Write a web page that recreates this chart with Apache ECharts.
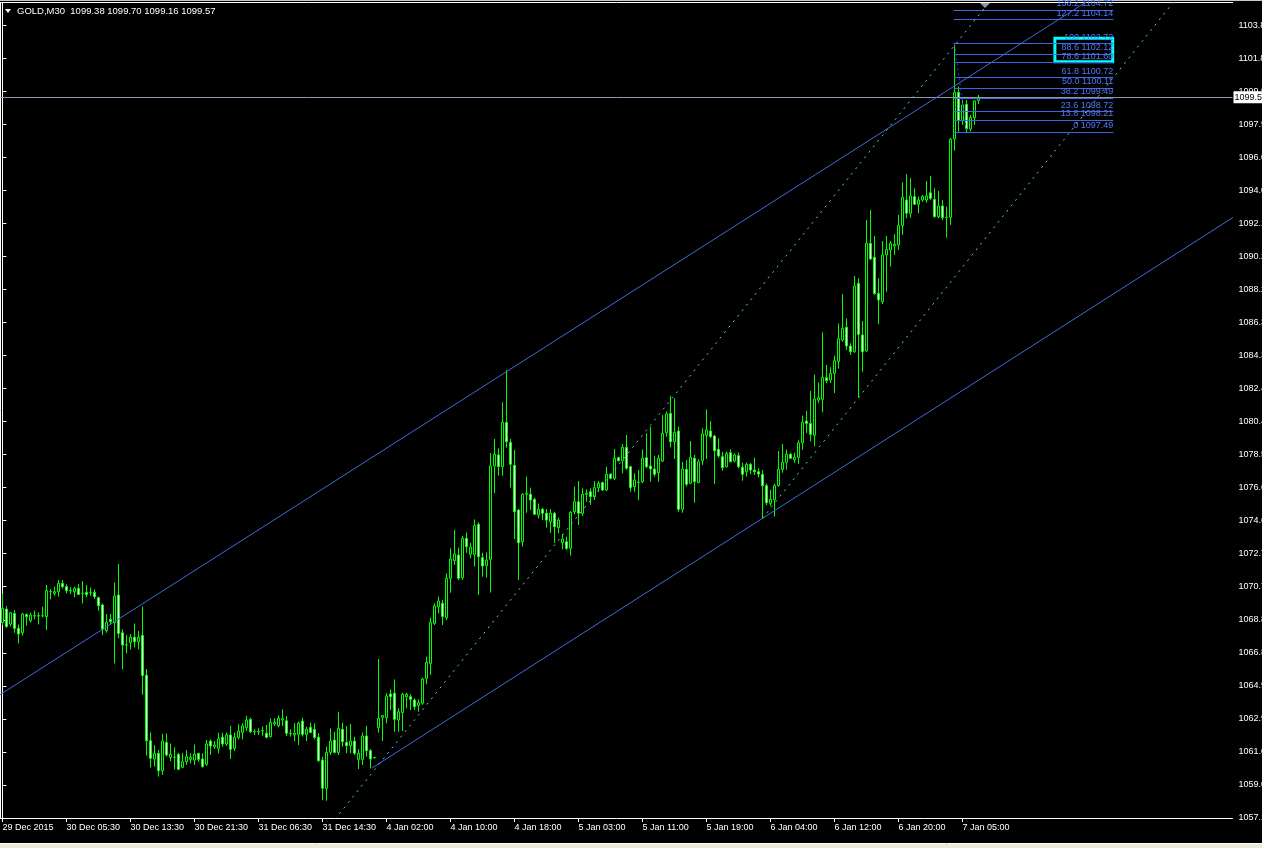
<!DOCTYPE html>
<html><head><meta charset="utf-8">
<script src="https://cdn.jsdelivr.net/npm/echarts@6/dist/echarts.min.js"></script>
<style>html,body{margin:0;padding:0;background:#000;overflow:hidden}#c{width:1262px;height:848px}</style>
</head><body><div id="c"></div>
<script>
const opens = [
1068.58,1069.37,1068.48,1069.11,1068.23,1067.97,1069.05,1068.68,1068.96,1068.97,
1068.96,1068.92,1070.39,1070.29,1070.39,1070.88,1070.69,1070.45,1070.39,1070.59,
1070.29,1070.35,1070.33,1070.35,1070.04,1069.61,1068.09,1068.76,1068.56,1070.20,
1067.97,1067.25,1067.40,1067.70,1067.44,1067.81,1065.47,1061.60,1060.52,1060.85,
1059.83,1061.50,1060.62,1060.62,1060.79,1060.03,1060.36,1060.50,1060.46,1060.85,
1060.52,1060.21,1061.58,1061.25,1061.15,1061.80,1061.41,1061.94,1061.15,1061.80,
1062.09,1062.37,1062.86,1062.13,1062.14,1062.19,1062.04,1061.84,1062.59,1062.49,
1062.82,1062.78,1062.04,1061.94,1061.98,1062.76,1061.98,1062.39,1062.27,1061.80,
1060.46,1058.79,1060.91,1061.64,1060.91,1062.27,1061.50,1061.31,1061.58,1060.50,
1060.50,1061.88,1061.01,1060.60,1062.37,1062.98,1062.96,1064.36,1064.40,1062.82,
1063.26,1064.20,1064.20,1064.00,1063.69,1063.81,1065.28,1066.16,1068.52,1069.51,
1069.71,1068.86,1071.18,1072.22,1072.56,1071.22,1073.54,1072.60,1072.60,1074.37,
1072.40,1071.93,1072.30,1077.81,1078.46,1077.77,1080.38,1079.20,1077.85,1075.21,
1073.34,1076.14,1076.14,1075.84,1074.92,1075.25,1075.02,1074.52,1075.02,1074.17,
1073.30,1073.34,1072.95,1075.11,1075.70,1075.02,1076.14,1076.29,1076.00,1076.53,
1076.83,1076.39,1077.32,1077.08,1078.30,1078.12,1078.91,1077.77,1076.59,1076.84,
1076.88,1078.30,1077.81,1077.63,1077.41,1078.10,1079.77,1080.91,1079.24,1079.87,
1075.25,1077.61,1076.79,1078.26,1076.83,1078.12,1079.60,1079.87,1079.58,1078.79,
1078.36,1077.77,1078.59,1078.10,1078.42,1077.73,1077.47,1077.91,1077.57,1077.47,
1077.31,1076.65,1075.61,1075.80,1076.65,1077.61,1078.02,1078.50,1078.18,1078.32,
1079.18,1080.46,1080.32,1079.62,1081.70,1081.74,1083.02,1082.88,1083.27,1083.98,
1085.24,1085.99,1084.89,1084.55,1088.58,1085.54,1084.59,1090.94,1090.12,1087.99,
1087.50,1090.26,1090.55,1090.79,1090.85,1091.99,1093.50,1092.72,1093.70,1093.25,
1093.50,1093.50,1093.93,1093.54,1092.52,1093.15,1092.48,1092.48,1097.10,1099.85,
1098.18,1099.15,1097.69,1098.36,1099.38];
const highs = [
1070.29,1069.55,1069.21,1069.31,1068.46,1069.15,1069.11,1069.15,1069.27,1069.17,
1069.51,1070.79,1070.55,1070.69,1071.08,1071.08,1070.83,1070.65,1070.69,1070.85,
1071.02,1070.79,1070.63,1070.53,1070.10,1069.70,1069.07,1069.07,1070.94,1072.02,
1068.17,1067.83,1067.89,1068.52,1068.07,1069.51,1065.83,1062.09,1061.34,1061.05,
1061.99,1062.03,1061.44,1061.21,1060.89,1060.89,1061.05,1060.85,1061.38,1060.89,
1060.86,1061.64,1061.68,1061.58,1062.07,1062.07,1062.07,1062.47,1062.07,1062.57,
1062.63,1063.08,1062.96,1062.27,1062.33,1062.43,1062.53,1062.92,1062.92,1063.08,
1063.45,1063.06,1062.27,1062.63,1062.72,1062.96,1062.43,1062.67,1062.63,1062.04,
1060.66,1061.25,1062.33,1062.13,1063.31,1062.67,1062.47,1062.59,1061.84,1061.11,
1062.09,1062.47,1061.11,1060.66,1066.42,1063.12,1064.40,1064.63,1065.22,1063.51,
1064.43,1064.43,1064.34,1064.10,1064.04,1065.32,1066.56,1068.86,1069.71,1070.10,
1069.90,1071.47,1072.95,1074.03,1072.99,1073.68,1073.89,1073.28,1074.66,1074.48,
1072.69,1072.71,1078.57,1079.40,1078.85,1081.56,1083.47,1079.40,1078.75,1075.27,
1076.20,1077.18,1076.53,1075.94,1075.60,1075.35,1075.27,1075.27,1075.11,1074.76,
1073.80,1073.64,1075.15,1076.59,1076.92,1076.49,1076.43,1076.49,1076.92,1076.92,
1076.88,1077.77,1077.37,1078.81,1078.36,1079.10,1079.64,1077.81,1077.38,1077.57,
1078.79,1079.73,1080.13,1078.42,1078.46,1080.82,1081.01,1081.94,1081.80,1080.13,
1078.06,1078.16,1079.28,1078.46,1078.20,1080.03,1081.15,1080.46,1079.64,1079.44,
1078.65,1078.65,1078.79,1078.55,1078.61,1078.00,1078.02,1077.97,1078.30,1077.67,
1077.57,1076.78,1076.41,1076.78,1078.69,1079.11,1078.77,1078.59,1078.59,1079.32,
1080.78,1081.05,1082.23,1083.20,1082.74,1085.69,1083.77,1083.63,1084.32,1086.21,
1087.95,1086.52,1085.05,1089.02,1088.88,1086.36,1092.32,1092.91,1091.38,1088.88,
1091.08,1091.38,1091.08,1091.48,1092.62,1094.54,1095.03,1094.78,1094.19,1093.70,
1093.80,1094.62,1094.92,1094.19,1094.03,1093.50,1093.11,1097.14,1102.72,1100.19,
1099.40,1099.40,1098.52,1099.40,1099.70];
const lows = [
1068.43,1068.27,1068.33,1067.97,1067.34,1067.80,1068.39,1068.58,1068.76,1068.46,
1068.88,1068.13,1069.94,1070.16,1070.10,1070.59,1070.29,1070.25,1070.06,1070.20,
1069.70,1070.06,1070.14,1069.96,1069.27,1067.83,1067.97,1068.43,1066.16,1067.64,
1065.81,1066.75,1066.99,1067.11,1066.99,1064.31,1060.72,1060.03,1060.07,1059.48,
1059.58,1060.66,1060.40,1059.91,1059.87,1059.97,1060.17,1060.26,1060.17,1060.36,
1060.01,1060.11,1060.76,1061.11,1060.86,1061.25,1061.29,1060.52,1060.99,1061.68,
1061.68,1062.17,1062.04,1061.94,1061.94,1061.90,1061.74,1061.80,1062.47,1062.39,
1062.47,1061.88,1061.84,1061.58,1061.35,1061.84,1061.58,1062.04,1061.68,1060.36,
1058.10,1058.06,1060.76,1060.86,1060.76,1061.25,1060.86,1060.86,1060.76,1059.93,
1060.17,1060.66,1059.97,1060.54,1062.07,1061.58,1062.63,1063.41,1062.13,1062.13,
1062.17,1063.51,1063.41,1063.41,1063.31,1063.71,1064.93,1065.48,1068.43,1069.11,
1068.43,1068.72,1070.33,1071.97,1071.08,1071.08,1072.69,1072.36,1071.87,1070.20,
1071.28,1071.22,1070.34,1076.20,1077.24,1077.24,1078.89,1076.53,1073.50,1071.08,
1073.05,1075.05,1075.21,1074.92,1074.72,1074.62,1074.17,1073.87,1073.28,1073.84,
1072.89,1072.85,1072.52,1074.96,1074.33,1074.86,1075.70,1075.51,1075.80,1076.29,
1076.33,1076.33,1077.02,1076.98,1078.06,1077.38,1077.59,1076.29,1076.29,1075.79,
1076.79,1077.67,1076.88,1077.18,1076.88,1078.06,1079.54,1078.91,1078.22,1075.11,
1075.05,1076.59,1076.73,1075.64,1076.79,1077.87,1078.22,1079.44,1076.75,1078.30,
1077.53,1077.71,1078.02,1078.02,1077.67,1076.94,1077.18,1077.32,1077.28,1077.14,
1074.72,1075.50,1075.45,1074.83,1076.59,1077.41,1077.59,1078.22,1077.99,1077.93,
1078.77,1079.76,1079.26,1078.97,1081.51,1080.97,1082.70,1082.70,1082.12,1083.55,
1085.14,1084.65,1084.36,1084.49,1081.84,1083.37,1084.55,1089.96,1087.90,1086.17,
1087.36,1088.09,1089.57,1090.26,1090.55,1091.44,1092.42,1092.46,1093.21,1092.72,
1093.40,1093.34,1093.50,1092.46,1092.42,1092.32,1091.28,1092.03,1096.41,1097.53,
1097.93,1097.49,1097.55,1097.93,1099.16];
const closes = [
1069.41,1068.33,1069.15,1068.23,1067.89,1069.07,1068.92,1069.01,1068.97,1068.96,
1068.97,1070.45,1070.40,1070.39,1070.88,1070.69,1070.45,1070.44,1070.59,1070.23,
1070.30,1070.23,1070.34,1070.10,1069.57,1068.17,1068.58,1068.62,1070.14,1067.93,
1067.25,1067.26,1067.70,1067.44,1067.70,1065.45,1061.60,1060.56,1060.85,1059.83,
1061.58,1060.76,1060.79,1060.63,1059.91,1060.36,1060.66,1060.62,1060.81,1060.50,
1060.07,1061.41,1061.29,1061.35,1061.72,1061.41,1061.94,1061.09,1061.80,1062.17,
1062.47,1062.82,1062.13,1062.14,1062.12,1062.18,1061.80,1062.67,1062.67,1062.92,
1062.90,1062.04,1062.03,1062.04,1062.63,1061.98,1062.27,1062.09,1061.80,1060.42,
1058.79,1060.91,1061.58,1060.91,1062.33,1061.54,1061.31,1061.58,1060.86,1060.86,
1061.88,1061.01,1060.52,1060.61,1062.92,1063.08,1064.24,1064.20,1062.86,1063.31,
1064.34,1064.34,1064.04,1063.61,1063.84,1065.24,1066.22,1068.58,1069.55,1069.84,
1068.92,1071.18,1072.32,1072.62,1071.18,1073.54,1073.05,1073.01,1074.29,1072.46,
1071.91,1072.26,1077.81,1078.50,1077.77,1080.38,1079.24,1077.91,1075.11,1073.28,
1076.14,1076.20,1075.80,1074.96,1075.25,1075.02,1074.62,1075.02,1074.23,1074.62,
1073.50,1072.95,1075.07,1075.70,1075.02,1076.14,1076.20,1076.00,1076.53,1076.79,
1076.39,1077.32,1077.08,1078.26,1078.12,1078.91,1077.67,1076.53,1076.98,1076.85,
1078.26,1077.77,1077.63,1077.32,1078.26,1079.73,1080.88,1079.24,1079.79,1075.25,
1077.63,1076.73,1078.32,1076.88,1078.06,1079.70,1079.93,1079.54,1078.71,1078.40,
1077.71,1078.55,1078.06,1078.46,1077.77,1077.32,1077.91,1077.57,1077.47,1077.33,
1076.65,1075.64,1075.84,1076.65,1077.61,1078.02,1078.50,1078.26,1078.32,1079.17,
1080.38,1080.32,1079.68,1081.76,1081.84,1083.04,1082.84,1083.27,1084.02,1085.32,
1085.93,1084.89,1084.55,1088.43,1085.57,1084.55,1090.94,1090.02,1087.99,1087.60,
1090.26,1090.59,1090.94,1090.89,1091.99,1093.66,1092.72,1093.74,1093.25,1093.50,
1093.70,1093.74,1093.60,1092.52,1093.15,1092.46,1092.47,1097.10,1099.85,1098.18,
1099.11,1097.69,1098.36,1099.34,1099.57];

const xTickLabels = ['29 Dec 2015','30 Dec 05:30','30 Dec 13:30','30 Dec 21:30','31 Dec 06:30','31 Dec 14:30','4 Jan 02:00','4 Jan 10:00','4 Jan 18:00','5 Jan 03:00','5 Jan 11:00','5 Jan 19:00','6 Jan 04:00','6 Jan 12:00','6 Jan 20:00','7 Jan 05:00'];
const yTickLabels = ['1057.1','1059.0','1061.0','1062.9','1064.9','1066.8','1068.8','1070.7','1072.7','1074.6','1076.6','1078.5','1080.4','1082.4','1084.3','1086.3','1088.2','1090.2','1092.1','1094.0','1096.0','1097.9','1099.9','1101.8','1103.8'];
const fibLevels = ['0','13.8','23.6','38.2','50.0','61.8','78.6','88.6','100','127.2','138.2'];
const fibPrices = [1097.49,1098.21,1098.72,1099.49,1100.11,1100.72,1101.60,1102.12,1102.72,1104.14,1104.72];
const bidPrice = 1099.57;
const headerText = 'GOLD,M30  1099.38 1099.70 1099.16 1099.57';

// trend objects: anchor points as [bar index, price]
const upperChannel = [[-0.6, 1064.32], [246.9, 1101.57]];
const lowerChannel = [[92.4, 1059.99], [190, 1074.72]];
const dottedUpper = [[184.4, 1086.82], [242.75, 1104.02]];
const dottedLower = [[190, 1074.72], [246.93, 1091.60]];
const fibTrend = [[238, 1102.72], [241, 1097.49]];
const fibSpan = [237.8, 277.7];
const fibBox = [[263.1, 1103.05], [277.55, 1101.66]];

const SLOTS = 308;
const categories = Array.from({length: SLOTS}, (_, i) => String(i));
const FONT = "'Liberation Sans', Arial, sans-serif";

function ray(anchors, x0, x1) {
  const [[a, pa], [b, pb]] = anchors;
  const s = (pb - pa) / (b - a);
  return [[x0, pa + s * (x0 - a)], [x1, pa + s * (x1 - a)]];
}

const candleData = opens.map((o, i) => [o, closes[i], lows[i], highs[i]]);
const labelEvery = (i) => i % 16 === 0 && i / 16 < xTickLabels.length;

const chart = echarts.init(document.getElementById('c'), null, {renderer: 'canvas'});
const lineBase = {type: 'line', xAxisIndex: 1, yAxisIndex: 0, symbol: 'none', silent: true, clip: true, animation: false};

chart.setOption({
  backgroundColor: '#000000',
  animation: false,
  grid: {left: 0.5, top: 2.5, width: 1232, height: 815.5, show: false, containLabel: false, outerBoundsMode: 'none'},
  xAxis: [{
    type: 'category', data: categories, boundaryGap: true,
    axisLine: {show: true, lineStyle: {color: '#ffffff', width: 1}},
    axisTick: {show: true, alignWithLabel: true, interval: labelEvery, length: 4, lineStyle: {color: '#ffffff'}},
    axisLabel: {show: true, interval: labelEvery, align: 'left', margin: 5, color: '#ffffff', fontSize: 9, fontFamily: FONT,
      formatter: (v, i) => xTickLabels[Math.round(Number(v) / 16)] || ''},
    splitLine: {show: false}
  }, {
    type: 'value', min: -0.5, max: SLOTS - 0.5, show: false
  }],
  yAxis: [{
    type: 'value', position: 'right', scale: true,
    min: 1057.041, max: 1105.153, interval: 1.9493,
    axisLine: {show: true, lineStyle: {color: '#ffffff', width: 1}},
    axisTick: {show: true, length: 4, lineStyle: {color: '#ffffff'}},
    axisLabel: {show: true, margin: 6, color: '#ffffff', fontSize: 9, fontFamily: FONT,
      formatter: (v, i) => yTickLabels[i] || ''},
    splitLine: {show: false}
  }],
  series: [
    {
      type: 'candlestick', xAxisIndex: 0, yAxisIndex: 0, data: candleData, barWidth: 2,
      silent: true, animation: false, z: 2,
      itemStyle: {color: '#000000', color0: '#ffffff', borderColor: '#00ff00', borderColor0: '#00ff00', borderColorDoji: '#00ff00', borderWidth: 1},
      markLine: {
        silent: true, symbol: ['none', 'none'], animation: false,
        lineStyle: {color: '#8c9aab', width: 1, type: 'solid'},
        label: {show: true, position: 'end', distance: 1, formatter: bidPrice.toFixed(2), color: '#000000',
          backgroundColor: '#ffffff', padding: [2, 3, 1, 1], fontSize: 9, fontFamily: FONT},
        data: [{yAxis: bidPrice}]
      }
    },
    Object.assign({}, lineBase, {data: ray(upperChannel, -3, 300), z: 5, lineStyle: {color: '#4169e1', width: 1}}),
    Object.assign({}, lineBase, {data: ray(lowerChannel, 92.4, 320), z: 5, lineStyle: {color: '#4169e1', width: 1}}),
    Object.assign({}, lineBase, {data: ray(dottedUpper, 70, 260), z: 5, lineStyle: {color: '#55cfc6', width: 1, type: [2, 5]}}),
    Object.assign({}, lineBase, {data: ray(dottedLower, 190, 300), z: 5, lineStyle: {color: '#55cfc6', width: 1, type: [2, 5]}}),
    Object.assign({}, lineBase, {
      data: fibTrend, z: 6, lineStyle: {color: '#1a3cff', width: 1, type: [2, 3]},
      markLine: {
        silent: true, symbol: ['none', 'none'], animation: false,
        lineStyle: {color: '#3f66e6', width: 1, type: 'solid'},
        label: {show: true, position: 'insideEndTop', distance: [0, 2], color: '#4f78f2', fontSize: 9, fontFamily: FONT,
          formatter: (p) => p.name},
        data: fibPrices.map((p, i) => [{coord: [fibSpan[0], p], name: fibLevels[i] + ' ' + p.toFixed(2)}, {coord: [fibSpan[1], p]}])
      },
      markArea: {
        silent: true, animation: false,
        itemStyle: {color: 'rgba(0,0,0,0)', borderColor: '#00ffff', borderWidth: 3},
        label: {show: false},
        data: [[{coord: fibBox[0]}, {coord: fibBox[1]}]]
      }
    })
  ],
  graphic: [
    {type: 'rect', shape: {x: 0, y: 0, width: 1262, height: 1}, style: {fill: '#c8c8c8'}, silent: true},
    {type: 'line', shape: {x1: 0, y1: 2.5, x2: 1233, y2: 2.5}, style: {stroke: '#ffffff', lineWidth: 1}, silent: true},
    {type: 'line', shape: {x1: 0.5, y1: 2.5, x2: 0.5, y2: 818}, style: {stroke: '#ffffff', lineWidth: 1}, silent: true},
    {type: 'polygon', shape: {points: [[5, 9], [11, 9], [8, 13]]}, style: {fill: '#ffffff'}, silent: true},
    {type: 'text', x: 17, y: 6, style: {text: headerText, fill: '#ffffff', font: '9.5px ' + FONT}, silent: true},
    {type: 'polygon', shape: {points: [[980, 3], [990, 3], [985, 8]]}, style: {fill: '#8c9aab'}, silent: true},
    {type: 'rect', shape: {x: 0, y: 844, width: 1262, height: 4}, style: {fill: '#ece9d8'}, silent: true},
    {type: 'line', shape: {x1: 0, y1: 843.5, x2: 1262, y2: 843.5}, style: {stroke: '#ffffff', lineWidth: 1}, silent: true}
  ]
});
</script>
</body></html>
